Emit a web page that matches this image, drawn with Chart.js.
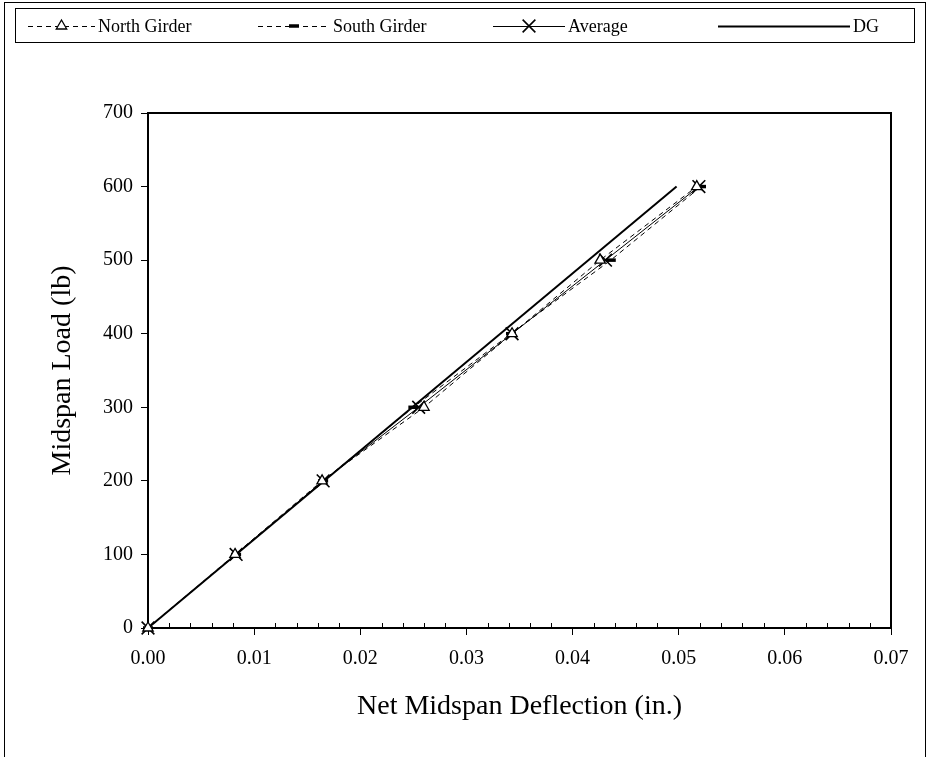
<!DOCTYPE html>
<html lang="en">
<head>
  <meta charset="UTF-8">
  <title>Midspan Load vs Deflection</title>
  <script src="https://cdn.jsdelivr.net/npm/chart.js"></script>
  <style>
    html, body { margin: 0; padding: 0; background: #fff; }
    #chartContainer { width: 929px; height: 757px; position: relative; }
  </style>
</head>
<body>
<div id="chartContainer">
  <canvas id="deflectionChart" width="929" height="757"></canvas>
</div>

<script>
// load steps (lb)
const loads = [0, 100, 200, 300, 400, 500, 600];
// net midspan deflection (in.)
const northDefl = [0, 0.0082, 0.0164, 0.0260, 0.0343, 0.0426, 0.0517];
const southDefl = [0, 0.0083, 0.0165, 0.0250, 0.0342, 0.0436, 0.0521];
const avgDefl   = [0, 0.0083, 0.0165, 0.0255, 0.0343, 0.0431, 0.0519];
// DG prediction line
const dgDefl = [0, 0.0498];
const dgLoad = [0, 600];

const seriesNames = ['North Girder', 'South Girder', 'Average', 'DG'];
const xTicks = [0, 0.01, 0.02, 0.03, 0.04, 0.05, 0.06, 0.07];
const yTicks = [0, 100, 200, 300, 400, 500, 600, 700];

function toPoints(xs, ys) {
  return xs.map((x, i) => ({ x: x, y: ys[i] }));
}

const FONT = '"Liberation Serif", "Times New Roman", serif';

// small marker painter for the legend, same looks as the chart points
function drawMarker(ctx, style, x, y, r, bw) {
  ctx.save();
  ctx.strokeStyle = '#000';
  ctx.fillStyle = '#fff';
  ctx.lineWidth = bw;
  ctx.beginPath();
  if (style === 'triangle') {
    ctx.moveTo(x, y - r);
    ctx.lineTo(x + r * 0.87, y + r * 0.5);
    ctx.lineTo(x - r * 0.87, y + r * 0.5);
    ctx.closePath();
    ctx.fill();
    ctx.stroke();
  } else if (style === 'line') {
    ctx.moveTo(x - r, y);
    ctx.lineTo(x + r, y);
    ctx.stroke();
  } else if (style === 'crossRot') {
    const d = r * 0.7071;
    ctx.moveTo(x - d, y - d); ctx.lineTo(x + d, y + d);
    ctx.moveTo(x - d, y + d); ctx.lineTo(x + d, y - d);
    ctx.stroke();
  }
  ctx.restore();
}

const framePlugin = {
  id: 'frame',
  beforeDatasetsDraw(chart) {
    const ctx = chart.ctx;
    const a = chart.chartArea;
    const xs = chart.scales.x;
    ctx.save();
    // plot box
    ctx.strokeStyle = '#000';
    ctx.lineWidth = 2;
    ctx.strokeRect(a.left, a.top, a.right - a.left, a.bottom - a.top);
    // minor ticks on x axis, pointing inward
    ctx.lineWidth = 1;
    ctx.beginPath();
    for (let i = 1; i < 35; i++) {
      if (i % 5 === 0) continue;
      const px = Math.round(xs.getPixelForValue(i * 0.002)) + 0.5;
      ctx.moveTo(px, a.bottom);
      ctx.lineTo(px, a.bottom - 5);
    }
    ctx.stroke();
    ctx.restore();
  },
  afterDraw(chart) {
    const ctx = chart.ctx;
    ctx.save();
    // outer chart border
    ctx.strokeStyle = '#000';
    ctx.lineWidth = 1;
    ctx.strokeRect(4.5, 2.5, 921, 800);
    // legend box
    ctx.strokeRect(15.5, 8.5, 899, 34);

    const entries = [
      { x0: 28, x1: 95 },
      { x0: 258, x1: 330 },
      { x0: 493, x1: 565 },
      { x0: 718, x1: 850 }
    ];
    const ly = 26;
    ctx.font = '18px ' + FONT;
    ctx.textBaseline = 'middle';
    ctx.fillStyle = '#000';
    chart.data.datasets.forEach((ds, i) => {
      const e = entries[i];
      ctx.save();
      ctx.strokeStyle = '#000';
      ctx.lineWidth = ds.borderWidth;
      ctx.setLineDash(ds.borderDash || []);
      ctx.beginPath();
      ctx.moveTo(e.x0, ly + 0.5);
      ctx.lineTo(e.x1, ly + 0.5);
      ctx.stroke();
      ctx.restore();
      if (ds.pointRadius > 0) {
        drawMarker(ctx, ds.pointStyle, (e.x0 + e.x1) / 2, ly, ds.pointRadius, ds.pointBorderWidth);
      }
      ctx.fillText(ds.label, e.x1 + 3, ly + 1);
    });
    ctx.restore();
  }
};

const ctx = document.getElementById('deflectionChart').getContext('2d');

new Chart(ctx, {
  type: 'scatter',
  data: {
    datasets: [
      {
        label: seriesNames[0],
        data: toPoints(northDefl, loads),
        showLine: true,
        clip: false,
        borderColor: '#000',
        borderWidth: 1,
        borderDash: [5, 4],
        pointStyle: 'triangle',
        pointRadius: 6,
        pointBorderWidth: 1.3,
        pointBorderColor: '#000',
        pointBackgroundColor: '#fff'
      },
      {
        label: seriesNames[1],
        data: toPoints(southDefl, loads),
        showLine: true,
        clip: false,
        borderColor: '#000',
        borderWidth: 1,
        borderDash: [5, 4],
        pointStyle: 'line',
        pointRadius: 5,
        pointBorderWidth: 3.5,
        pointBorderColor: '#000',
        pointBackgroundColor: '#000'
      },
      {
        label: seriesNames[2],
        data: toPoints(avgDefl, loads),
        showLine: true,
        clip: false,
        borderColor: '#000',
        borderWidth: 1,
        pointStyle: 'crossRot',
        pointRadius: 9,
        pointBorderWidth: 1.6,
        pointBorderColor: '#000',
        pointBackgroundColor: '#000'
      },
      {
        label: seriesNames[3],
        data: toPoints(dgDefl, dgLoad),
        showLine: true,
        borderColor: '#000',
        borderWidth: 2,
        pointRadius: 0
      }
    ]
  },
  options: {
    responsive: false,
    animation: false,
    layout: { padding: { left: 44, right: 38, top: 113, bottom: 30 } },
    plugins: {
      legend: { display: false },
      tooltip: { enabled: false }
    },
    scales: {
      x: {
        type: 'linear',
        min: 0,
        max: 0.07,
        afterBuildTicks: (scale) => { scale.ticks = xTicks.map(v => ({ value: v })); },
        afterFit: (scale) => { scale.height = 99; },
        ticks: {
          color: '#000',
          font: { family: FONT, size: 20 },
          padding: 12,
          maxRotation: 0,
          callback: (v) => Number(v).toFixed(2)
        },
        grid: { drawOnChartArea: false, drawTicks: true, tickLength: 7, color: '#000' },
        border: { color: '#000', width: 2 },
        title: {
          display: true,
          text: 'Net Midspan Deflection (in.)',
          color: '#000',
          font: { family: FONT, size: 28 },
          padding: { top: 4, bottom: 4 }
        }
      },
      y: {
        type: 'linear',
        min: 0,
        max: 700,
        afterBuildTicks: (scale) => { scale.ticks = yTicks.map(v => ({ value: v })); },
        afterFit: (scale) => { scale.width = 148 - 44; },
        ticks: {
          color: '#000',
          font: { family: FONT, size: 20 },
          padding: 8
        },
        grid: { drawOnChartArea: false, drawTicks: true, tickLength: 7, color: '#000' },
        border: { color: '#000', width: 2 },
        title: {
          display: true,
          text: 'Midspan Load (lb)',
          color: '#000',
          font: { family: FONT, size: 28 },
          padding: { top: 2, bottom: 4 }
        }
      }
    }
  },
  plugins: [framePlugin]
});
</script>
</body>
</html>
